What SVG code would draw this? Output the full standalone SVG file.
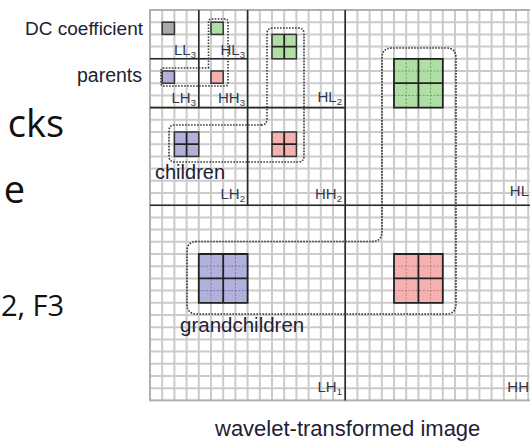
<svg xmlns="http://www.w3.org/2000/svg" width="530" height="441" viewBox="0 0 530 441">
  <style>
    .slide { font-family: "Open Sans", "Noto Sans", sans-serif; fill: #111; }
    .grid { fill: none; stroke: #cbcbcb; stroke-width: 2; }
    .frame { fill: none; stroke: #b0b0b0; stroke-width: 2; }
    .band { fill: none; stroke: #2a2a2a; stroke-width: 1.6; }
    .lbl { font-family: "Liberation Sans", Arial, sans-serif; fill: #1e2136; }
    .sub { font-family: "Liberation Sans", Arial, sans-serif; font-size: 15px; fill: #34364a; }
    .sub tspan { font-size: 9.5px; }
    .cell { stroke: #333; stroke-width: 1.5; }
    .div { stroke: #222; stroke-width: 1.8; fill: none; }
    .g { fill: #b0dfa6; }
    .p { fill: #f5b1b1; }
    .v { fill: #b1b1dc; }
    .k { fill: #a9a9a9; }
    .dq { stroke-width: 1; stroke-dasharray: 2 1.6; fill: none; }
    .tree { fill: none; stroke: #3a3a3a; stroke-width: 1.6; stroke-dasharray: 1.6 1.4; }
  </style>

  <rect width="530" height="441" fill="#fff"/>

  <!-- slide text partly covered by the figure -->
  <g id="slide-text">
    <text class="slide" x="64" y="137" font-size="38" text-anchor="end">cks</text>
    <text class="slide" x="25" y="203" font-size="38" text-anchor="end">e</text>
    <text class="slide" x="1" y="316" font-size="29">2, F3</text>
  </g>

  <!-- coefficient grid, 32 x 32 cells of 12.2 px -->
  <g id="grid">
    <path class="grid" d="M162.2 10V400.4M174.4 10V400.4M186.6 10V400.4M198.8 10V400.4M211 10V400.4M223.2 10V400.4M235.4 10V400.4M247.6 10V400.4M259.8 10V400.4M272 10V400.4M284.2 10V400.4M296.4 10V400.4M308.6 10V400.4M320.8 10V400.4M333 10V400.4M345.2 10V400.4M357.4 10V400.4M369.6 10V400.4M381.8 10V400.4M394 10V400.4M406.2 10V400.4M418.4 10V400.4M430.6 10V400.4M442.8 10V400.4M455 10V400.4M467.2 10V400.4M479.4 10V400.4M491.6 10V400.4M503.8 10V400.4M516 10V400.4M528.2 10V400.4
M150 22.2H540M150 34.4H540M150 46.6H540M150 58.8H540M150 71H540M150 83.2H540M150 95.4H540M150 107.6H540M150 119.8H540M150 132H540M150 144.2H540M150 156.4H540M150 168.6H540M150 180.8H540M150 193H540M150 205.2H540M150 217.4H540M150 229.6H540M150 241.8H540M150 254H540M150 266.2H540M150 278.4H540M150 290.6H540M150 302.8H540M150 315H540M150 327.2H540M150 339.4H540M150 351.6H540M150 363.8H540M150 376H540M150 388.2H540"/>
    <rect class="frame" x="150" y="10" width="400" height="390.4"/>
  </g>

  <!-- subband boundaries -->
  <g id="subbands">
    <path class="band" d="M198.8 10V107.6M150 58.8H247.6M247.6 10V205.2M150 107.6H345.2M345.2 10V400.4M150 205.2H540"/>
  </g>

  <!-- subband names -->
  <g id="subband-labels">
    <text class="sub" x="196" y="55" text-anchor="end">LL<tspan dy="3">3</tspan></text>
    <text class="sub" x="245" y="55" text-anchor="end">HL<tspan dy="3">3</tspan></text>
    <text class="sub" x="196" y="103" text-anchor="end">LH<tspan dy="3">3</tspan></text>
    <text class="sub" x="245" y="103" text-anchor="end">HH<tspan dy="3">3</tspan></text>
    <text class="sub" x="342" y="102" text-anchor="end">HL<tspan dy="3">2</tspan></text>
    <text class="sub" x="245" y="199" text-anchor="end">LH<tspan dy="3">2</tspan></text>
    <text class="sub" x="342" y="199" text-anchor="end">HH<tspan dy="3">2</tspan></text>
    <text class="sub" x="529" y="196" text-anchor="end">HL</text>
    <text class="sub" x="342" y="392" text-anchor="end">LH<tspan dy="3">1</tspan></text>
    <text class="sub" x="529" y="392" text-anchor="end">HH</text>
  </g>

  <!-- tree groupings -->
  <g id="connectors">
    <path class="tree" d="M208.5 68V22Q208.5 19 211.5 19H225Q228 19 228 22V83Q228 86 225 86H164Q161 86 161 83V71Q161 68 164 68Z"/>
    <path class="tree" d="M261 125Q267 125 267 119V34Q267 28 273 28H298Q304 28 304 34V156Q304 162 298 162H175Q169 162 169 156V131Q169 125 175 125Z"/>
    <path class="tree" d="M372 241.5Q382 241.5 382 231.5V58Q382 48 392 48H446Q456 48 456 58V304Q456 314 446 314H197Q187 314 187 304V251.5Q187 241.5 197 241.5Z"/>
  </g>

  <!-- DC coefficient -->
  <g id="dc">
    <rect class="cell k" x="162.2" y="22.2" width="12.2" height="12.2"/>
  </g>

  <!-- parents -->
  <g id="parent-hl3"><rect class="cell g" x="211" y="22.2" width="12.2" height="12.2"/></g>
  <g id="parent-lh3"><rect class="cell v" x="162.2" y="71" width="12.2" height="12.2"/></g>
  <g id="parent-hh3"><rect class="cell p" x="211" y="71" width="12.2" height="12.2"/></g>

  <!-- children: 2 x 2 blocks -->
  <g id="child-hl2">
    <rect class="cell g" x="272" y="34.4" width="24.4" height="24.4"/>
    <path class="div" d="M284.2 34.4V58.8M272 46.6H296.4"/>
  </g>
  <g id="child-lh2">
    <rect class="cell v" x="174.4" y="132" width="24.4" height="24.4"/>
    <path class="div" d="M186.6 132V156.4M174.4 144.2H198.8"/>
  </g>
  <g id="child-hh2">
    <rect class="cell p" x="272" y="132" width="24.4" height="24.4"/>
    <path class="div" d="M284.2 132V156.4M272 144.2H296.4"/>
  </g>

  <!-- grandchildren: 4 x 4 blocks -->
  <g id="grandchild-hl1">
    <rect class="g" x="394" y="58.8" width="48.8" height="48.8"/>
    <path class="dq" stroke="#6f9f66" d="M406.2 58.8V107.6M430.6 58.8V107.6M394 71H442.8M394 95.4H442.8"/>
    <path class="div" d="M394 58.8H442.8V107.6H394ZM418.4 58.8V107.6M394 83.2H442.8"/>
  </g>
  <g id="grandchild-lh1">
    <rect class="v" x="198.8" y="254" width="48.8" height="48.8"/>
    <path class="dq" stroke="#7676ad" d="M211 254V302.8M235.4 254V302.8M198.8 266.2H247.6M198.8 290.6H247.6"/>
    <path class="div" d="M198.8 254H247.6V302.8H198.8ZM223.2 254V302.8M198.8 278.4H247.6"/>
  </g>
  <g id="grandchild-hh1">
    <rect class="p" x="394" y="254" width="48.8" height="48.8"/>
    <path class="dq" stroke="#c37a7a" d="M406.2 254V302.8M430.6 254V302.8M394 266.2H442.8M394 290.6H442.8"/>
    <path class="div" d="M394 254H442.8V302.8H394ZM418.4 254V302.8M394 278.4H442.8"/>
  </g>

  <!-- annotations -->
  <g id="annotations">
    <text class="lbl" x="143" y="35" font-size="19" text-anchor="end">DC coefficient</text>
    <text class="lbl" x="142" y="82" font-size="19.5" text-anchor="end">parents</text>
    <text class="lbl" x="155" y="179" font-size="20">children</text>
    <text class="lbl" x="180" y="332" font-size="20.5">grandchildren</text>
    <text class="lbl" x="215" y="436" font-size="22">wavelet-transformed image</text>
  </g>
</svg>
